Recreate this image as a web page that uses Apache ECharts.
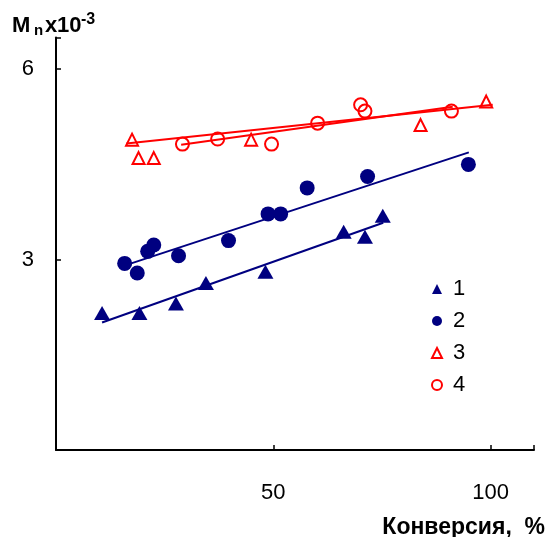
<!DOCTYPE html>
<html><head><meta charset="utf-8">
<script src="https://cdn.jsdelivr.net/npm/echarts@6/dist/echarts.min.js"></script>
<style>html,body{margin:0;padding:0;background:#fff}#c{width:549px;height:537px}</style>
</head><body><div id="c"></div>
<script>
// Data (conversion %, Mn x 10^-3)
var s1x = [10.6, 19.2, 27.6, 34.5, 48.2, 66.2, 71.1, 75.2];
var s1y = [2.16, 2.16, 2.31, 2.63, 2.81, 3.44, 3.36, 3.69];
var s2x = [15.8, 18.7, 21.1, 22.5, 28.2, 39.7, 48.8, 51.7, 57.8, 71.7, 94.9];
var s2y = [2.94, 2.79, 3.13, 3.23, 3.06, 3.30, 3.72, 3.72, 4.13, 4.31, 4.50];
var s3x = [17.5, 19.0, 22.5, 44.9, 83.9, 99.0];
var s3y = [4.89, 4.60, 4.60, 4.89, 5.12, 5.49];
var s4x = [29.1, 37.2, 49.6, 60.2, 70.1, 71.1, 91.0];
var s4y = [4.82, 4.90, 4.82, 5.15, 5.44, 5.34, 5.34];
// fitted lines (endpoints)
var fit1x = [10.6, 75.3], fit1y = [2.01, 3.58];
var fit2x = [17.3, 95.0], fit2y = [2.94, 4.69];
var fit3x = [16.2, 100.5], fit3y = [4.83, 5.44];
var fit4x = [28.8, 91.3], fit4y = [4.81, 5.41];
var names = ['1', '2', '3', '4'];
var xTicks = [50, 100];
var yTicks = [3, 6];

function pairs(xs, ys) { return xs.map(function (x, i) { return [x, ys[i]]; }); }
var NAVY = '#000080', RED = '#ff0000';
var FONT = '"Liberation Sans", Arial, sans-serif';

function fitLine(xs, ys, color) {
  return { type: 'line', data: pairs(xs, ys), showSymbol: false, symbol: 'none', silent: true,
    lineStyle: { color: color, width: 2 }, z: 1, legendHoverLink: false };
}

var chart = echarts.init(document.getElementById('c'), null, { renderer: 'canvas' });
chart.setOption({
  animation: false,
  backgroundColor: '#fff',
  grid: { left: 56, right: 15, top: 37.5, bottom: 87, containLabel: false },
  xAxis: {
    type: 'value', min: 0, max: 110, interval: 50,
    axisLine: { lineStyle: { color: '#000', width: 2 } },
    axisTick: { inside: true, length: 5, lineStyle: { color: '#000', width: 1.5 } },
    splitLine: { show: false },
    axisLabel: { margin: 32, color: '#000', fontSize: 22, fontFamily: FONT,
      formatter: function (v) { return xTicks.indexOf(v) >= 0 ? String(v) : ''; } }
  },
  yAxis: {
    type: 'value', min: 0, max: 6.5, interval: 3,
    axisLine: { show: true, lineStyle: { color: '#000', width: 2 } },
    axisTick: { show: true, inside: true, length: 5, lineStyle: { color: '#000', width: 1.5 } },
    splitLine: { show: false },
    axisLabel: { margin: 22, color: '#000', fontSize: 22, fontFamily: FONT, padding: [5, 0, 0, 0],
      formatter: function (v) { return yTicks.indexOf(v) >= 0 ? String(v) : ''; } }
  },
  legend: {
    orient: 'vertical', left: 426, top: 273, itemGap: 10, itemWidth: 10, itemHeight: 10,
    textStyle: { color: '#000', fontSize: 22, fontFamily: FONT, padding: [10, 0, 0, 6] },
    data: [
      { name: names[0], icon: 'triangle' },
      { name: names[1], icon: 'circle' },
      { name: names[2], icon: 'triangle' },
      { name: names[3], icon: 'circle' }
    ]
  },
  graphic: [
    { type: 'text', left: 12, top: 15, style: { text: 'M', font: 'bold 22px ' + FONT, fill: '#000' } },
    { type: 'text', left: 34, top: 23, style: { text: 'n', font: 'bold 15px ' + FONT, fill: '#000' } },
    { type: 'text', left: 45, top: 15, style: { text: 'x', font: 'bold 22px ' + FONT, fill: '#000' } },
    { type: 'text', left: 57, top: 15, style: { text: '10', font: 'bold 22px ' + FONT, fill: '#000' } },
    { type: 'text', left: 81, top: 12, style: { text: '-3', font: 'bold 16px ' + FONT, fill: '#000' } },
    { type: 'text', right: 4, top: 516, style: { text: 'Конверсия,  %', font: 'bold 23px ' + FONT, fill: '#000' } }
  ],
  series: [
    fitLine(fit1x, fit1y, NAVY),
    fitLine(fit2x, fit2y, NAVY),
    fitLine(fit3x, fit3y, RED),
    fitLine(fit4x, fit4y, RED),
    { name: names[0], type: 'scatter', symbol: 'triangle', symbolSize: [16, 14], data: pairs(s1x, s1y),
      itemStyle: { color: NAVY, opacity: 1 }, z: 3 },
    { name: names[1], type: 'scatter', symbol: 'circle', symbolSize: 15, data: pairs(s2x, s2y),
      itemStyle: { color: NAVY, opacity: 1 }, z: 3 },
    { name: names[2], type: 'scatter', symbol: 'triangle', symbolSize: [12, 12], data: pairs(s3x, s3y),
      itemStyle: { color: 'rgba(255,255,255,0)', borderColor: RED, borderWidth: 2, opacity: 1 }, z: 3 },
    { name: names[3], type: 'scatter', symbol: 'circle', symbolSize: 13, data: pairs(s4x, s4y),
      itemStyle: { color: 'rgba(255,255,255,0)', borderColor: RED, borderWidth: 2, opacity: 1 }, z: 3 }
  ]
});
</script></body></html>
